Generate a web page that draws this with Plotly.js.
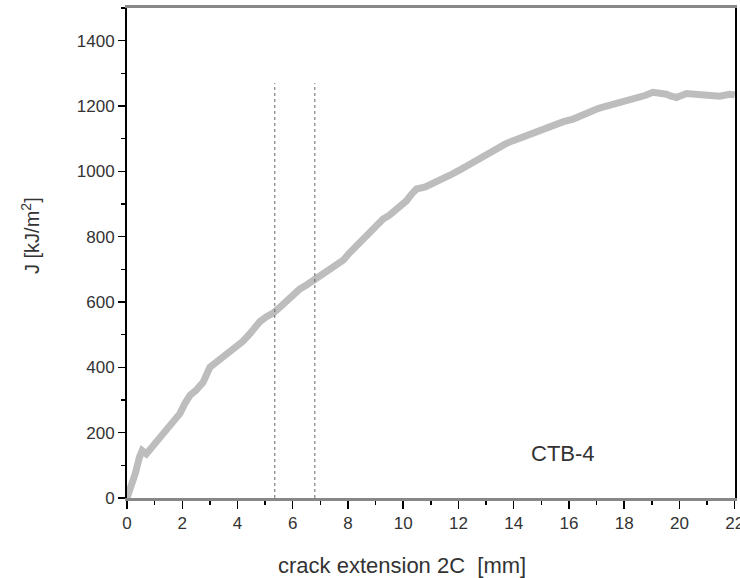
<!DOCTYPE html>
<html>
<head>
<meta charset="utf-8">
<script src="https://cdn.plot.ly/plotly-3.0.1.min.js"></script>
<style>html,body{margin:0;padding:0;background:#fff;overflow:hidden;}#chart{width:740px;height:578px;}</style>
</head>
<body>
<div id="chart"></div>
<script>
// crack extension 2C [mm]
const crackExt = [0, 0.11, 0.3, 0.45, 0.55, 0.7, 0.9, 1.07, 1.3, 1.56, 1.75, 1.92, 2.1, 2.28, 2.5, 2.76, 3.0, 3.3, 3.61, 3.97,
  4.2, 4.45, 4.81, 5.05, 5.29, 5.55, 5.78, 6.0, 6.26, 6.5, 6.74, 6.86, 7.1, 7.34, 7.6, 7.83, 8.05, 8.31, 8.55, 8.79,
  9.0, 9.27, 9.5, 9.76, 10.12, 10.3, 10.48, 10.8, 11.08, 11.4, 11.69, 12.0, 12.29, 12.6, 12.89, 13.1, 13.38, 13.7, 13.98, 14.3,
  14.7, 15.0, 15.42, 15.8, 16.15, 16.45, 16.75, 17.05, 17.36, 17.84, 18.1, 18.44, 18.75, 19.04, 19.3, 19.53, 19.7, 19.89, 20.25, 20.55,
  20.85, 21.15, 21.45, 21.82, 22.0];
// J [kJ/m^2]
const jValues = [0, 24, 75, 125, 145, 135, 155, 170, 195, 218, 238, 259, 290, 314, 330, 355, 400, 420, 442, 462,
  480, 503, 540, 555, 566, 585, 605, 618, 640, 652, 665, 676, 684, 698, 712, 728, 750, 773, 792, 813,
  832, 854, 866, 882, 910, 930, 946, 952, 962, 975, 988, 1002, 1017, 1030, 1044, 1058, 1072, 1084, 1094, 1104,
  1118, 1130, 1144, 1152, 1160, 1172, 1185, 1192, 1200, 1210, 1216, 1225, 1232, 1242, 1240, 1236, 1230, 1226, 1238, 1236,
  1234, 1232, 1230, 1236, 1234];
// vertical dotted marker lines
const markerX = [5.35, 6.8];
const markerTop = 1270;
const xTicks = [0, 2, 4, 6, 8, 10, 12, 14, 16, 18, 20, 22];
const yTicks = [0, 200, 400, 600, 800, 1000, 1200, 1400];
const specimen = "CTB-4";
const xTitle = "crack extension 2C  [mm]";
const yTitle = "J [kJ/m<sup>2</sup>]";

const font = "Liberation Sans, Arial, sans-serif";
const txt = "#333";

const traces = [{
  x: crackExt, y: jValues, type: "scatter", mode: "lines",
  line: {color: "#bdbdbd", width: 7}, hoverinfo: "skip"
}];

const shapes = markerX.map(v => ({
  type: "line", xref: "x", yref: "y", x0: v, x1: v, y0: 0, y1: markerTop,
  line: {color: "#666", width: 1, dash: "dot"}
}));

const W = 740, H = 578;
const M = {l: 127, r: 5, t: 8, b: 80};
const PW = W - M.l - M.r, PH = H - M.t - M.b;
const layout = {
  width: W, height: H,
  margin: M,
  paper_bgcolor: "#fff", plot_bgcolor: "#fff",
  showlegend: false,
  font: {family: font, color: txt, size: 17},
  xaxis: {
    range: [0, 22.01], tickvals: xTicks, ticktext: xTicks.map(String),
    ticks: "outside", ticklen: 8, tickwidth: 1.5, tickcolor: "#000",
    ticklabeloverflow: "allow",
    minor: {dtick: 1, tick0: 0, ticks: "outside", ticklen: 4, tickcolor: "#000", tickwidth: 1.5},
    showline: true, linecolor: "#888", linewidth: 3, mirror: true,
    showgrid: false, zeroline: false,
    tickfont: {family: font, size: 17, color: txt}
  },
  yaxis: {
    range: [0, 1500], tickvals: yTicks, ticktext: yTicks.map(String),
    ticks: "outside", ticklen: 7, tickwidth: 1.5, tickcolor: "#000",
    minor: {dtick: 100, tick0: 0, ticks: "outside", ticklen: 4, tickcolor: "#000", tickwidth: 1.5},
    showline: true, linecolor: "#000", linewidth: 2, mirror: true,
    showgrid: false, zeroline: false,
    ticklabelstandoff: 0,
    tickfont: {family: font, size: 17, color: txt}
  },
  shapes: shapes,
  annotations: [
    {x: 15.77, y: 135, xref: "x", yref: "y", text: specimen, showarrow: false,
     font: {family: font, size: 22, color: txt}},
    {x: (402 - M.l) / PW, y: (H - M.b - 565) / PH, xref: "paper", yref: "paper", text: xTitle, showarrow: false,
     xanchor: "center", yanchor: "middle", font: {family: font, size: 22, color: txt}},
    {x: (30 - M.l) / PW, y: (H - M.b - 236) / PH, xref: "paper", yref: "paper", text: yTitle, showarrow: false,
     textangle: -90, xanchor: "center", yanchor: "middle", font: {family: font, size: 20, color: txt}}
  ]
};

Plotly.newPlot("chart", traces, layout, {displayModeBar: false, staticPlot: true});
</script>
</body>
</html>
